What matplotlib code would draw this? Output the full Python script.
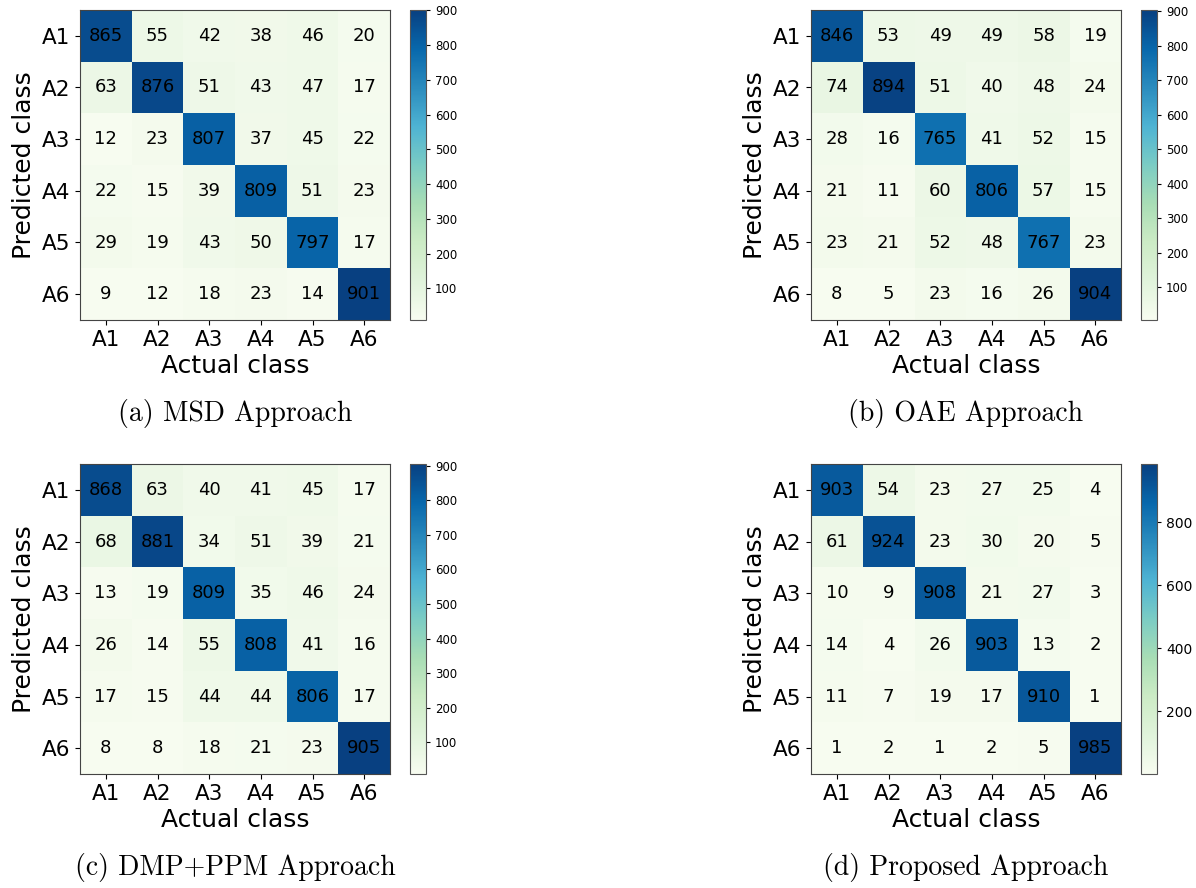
import numpy as np
import matplotlib
matplotlib.use('Agg')
import matplotlib.pyplot as plt
from matplotlib.ticker import MultipleLocator

classes = ['A1', 'A2', 'A3', 'A4', 'A5', 'A6']

cm_msd = [[865, 55, 42, 38, 46, 20],
          [63, 876, 51, 43, 47, 17],
          [12, 23, 807, 37, 45, 22],
          [22, 15, 39, 809, 51, 23],
          [29, 19, 43, 50, 797, 17],
          [9, 12, 18, 23, 14, 901]]

cm_oae = [[846, 53, 49, 49, 58, 19],
          [74, 894, 51, 40, 48, 24],
          [28, 16, 765, 41, 52, 15],
          [21, 11, 60, 806, 57, 15],
          [23, 21, 52, 48, 767, 23],
          [8, 5, 23, 16, 26, 904]]

cm_dmp = [[868, 63, 40, 41, 45, 17],
          [68, 881, 34, 51, 39, 21],
          [13, 19, 809, 35, 46, 24],
          [26, 14, 55, 808, 41, 16],
          [17, 15, 44, 44, 806, 17],
          [8, 8, 18, 21, 23, 905]]

cm_prop = [[903, 54, 23, 27, 25, 4],
           [61, 924, 23, 30, 20, 5],
           [10, 9, 908, 21, 27, 3],
           [14, 4, 26, 903, 13, 2],
           [11, 7, 19, 17, 910, 1],
           [1, 2, 1, 2, 5, 985]]

captions = ['(a) MSD Approach', '(b) OAE Approach',
            '(c) DMP+PPM Approach', '(d) Proposed Approach']
cbar_steps = [100, 100, 100, 200]
cbar_fs = [8.5, 8.5, 8.5, 10]

W, H = 1196, 888
fig = plt.figure(figsize=(W / 100, H / 100), dpi=100)

# panel origins in pixels (left, top)
origins = [(80, 10), (811, 10), (80, 464), (811, 464)]
side = 310

for mat, cap, step, cfs, (x0, y0) in zip([cm_msd, cm_oae, cm_dmp, cm_prop],
                                          captions, cbar_steps, cbar_fs, origins):
    m = np.array(mat)
    ax = fig.add_axes([x0 / W, 1 - (y0 + side) / H, side / W, side / H])
    im = ax.imshow(m, cmap='GnBu', aspect='auto', vmin=m.min(), vmax=m.max())
    for i in range(6):
        for j in range(6):
            ax.text(j, i, str(m[i, j]), ha='center', va='center',
                    fontsize=13, color='black')
    ax.set_xticks(range(6))
    ax.set_yticks(range(6))
    ax.set_xticklabels(classes, fontsize=15.5)
    ax.set_yticklabels(classes, fontsize=15.5)
    ax.set_xlabel('Actual class', fontsize=18, labelpad=3)
    ax.set_ylabel('Predicted class', fontsize=18, labelpad=4)
    for s in ax.spines.values():
        s.set_color('#444444')

    cax = fig.add_axes([(x0 + 330) / W, 1 - (y0 + side) / H, 16 / W, side / H])
    cb = fig.colorbar(im, cax=cax)
    cb.locator = MultipleLocator(step)
    cb.update_ticks()
    cb.ax.tick_params(labelsize=cfs, length=3)
    cb.outline.set_edgecolor('#555555')

    fig.text((x0 + side / 2) / W, 1 - (y0 + 403) / H, cap,
             ha='center', va='center', fontsize=20, family='cmr10')

fig.savefig('out.png', dpi=100)
